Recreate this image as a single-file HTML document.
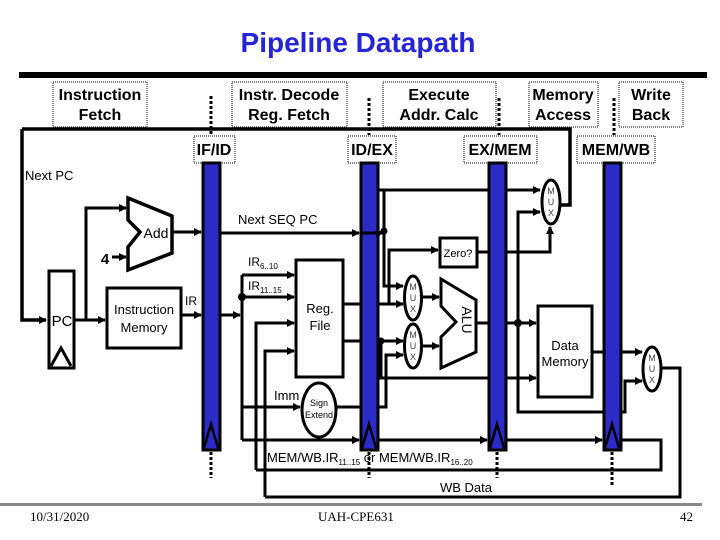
<!DOCTYPE html>
<html><head><meta charset="utf-8"><style>
html,body{margin:0;padding:0;background:#fff;}
svg{display:block;}
text{font-family:"Liberation Sans",sans-serif;}
</style></head><body>
<svg width="720" height="540" viewBox="0 0 720 540" xmlns="http://www.w3.org/2000/svg">
<defs>
<marker id="a" markerWidth="8" markerHeight="8" refX="7" refY="4" orient="auto" markerUnits="userSpaceOnUse">
<path d="M0,0 L8,4 L0,8 z" fill="#000"/></marker>
</defs>
<text x="358" y="52" font-size="28" font-weight="bold" fill="#2424d8" text-anchor="middle">Pipeline Datapath</text>
<rect x="19" y="72" width="688" height="6" fill="#000"/>

<g fill="#fff" stroke="#000" stroke-width="1" stroke-dasharray="1,1">
<rect x="53" y="82" width="94" height="45"/>
<rect x="232" y="82" width="115" height="45"/>
<rect x="383" y="82" width="113" height="45"/>
<rect x="529" y="82" width="69" height="45"/>
<rect x="619" y="82" width="64" height="45"/>
</g>
<g font-size="16" font-weight="bold" text-anchor="middle">
<text x="100" y="100">Instruction</text><text x="100" y="120">Fetch</text>
<text x="289" y="100">Instr. Decode</text><text x="289" y="120">Reg. Fetch</text>
<text x="439" y="100">Execute</text><text x="439" y="120">Addr. Calc</text>
<text x="563" y="100">Memory</text><text x="563" y="120">Access</text>
<text x="651" y="100">Write</text><text x="651" y="120">Back</text>
</g>

<g stroke="#000" stroke-width="3" stroke-dasharray="3,2" fill="none">
<line x1="211" y1="96" x2="211" y2="135"/>
<line x1="369" y1="98" x2="369" y2="135"/>
<line x1="499" y1="98" x2="499" y2="135"/>
<line x1="614" y1="98" x2="614" y2="135"/>
<line x1="211" y1="452" x2="211" y2="478"/>
<line x1="369" y1="452" x2="369" y2="478"/>
<line x1="497" y1="452" x2="497" y2="478"/>
<line x1="612" y1="452" x2="612" y2="486"/>
</g>

<!-- outline -->
<g stroke="#000" stroke-width="3.5" fill="none">
<polyline points="22,129 570,129 570,205 560,205"/>
<polyline points="22,129 22,320 46,320" marker-end="url(#a)"/>
</g>

<g fill="#fff" stroke="#000" stroke-width="1" stroke-dasharray="1,1">
<rect x="194" y="136" width="41" height="27"/>
<rect x="348" y="136" width="48" height="27"/>
<rect x="464" y="136" width="73" height="27"/>
<rect x="577" y="136" width="78" height="27"/>
</g>
<g font-size="16" font-weight="bold" text-anchor="middle">
<text x="214" y="155">IF/ID</text><text x="372" y="155">ID/EX</text>
<text x="500" y="155">EX/MEM</text><text x="616" y="155">MEM/WB</text>
</g>
<text x="25" y="180" font-size="13">Next PC</text>

<!-- pipeline bars -->
<g fill="#2b2bc8" stroke="#000" stroke-width="3">
<rect x="203" y="163" width="17" height="287"/>
<rect x="361" y="163" width="17" height="287"/>
<rect x="489" y="163" width="17" height="287"/>
<rect x="604" y="163" width="17" height="287"/>
</g>
<g fill="none" stroke="#000" stroke-width="2.5">
<polyline points="204,448 211,424 218,448"/>
<polyline points="362,448 369,424 376,448"/>
<polyline points="490,448 497,424 504,448"/>
<polyline points="605,448 612,424 619,448"/>
</g>

<!-- PC -->
<rect x="49" y="271" width="25" height="97" fill="#fff" stroke="#000" stroke-width="3"/>
<polyline points="51,366 61,348 71,366" fill="none" stroke="#000" stroke-width="3"/>
<text x="62" y="326" font-size="15" text-anchor="middle">PC</text>

<!-- Add -->
<polygon points="128,198 172,216 172,253 128,270 128,247 140,232 128,220" fill="#fff" stroke="#000" stroke-width="3.5"/>
<text x="156" y="238" font-size="14" text-anchor="middle">Add</text>
<text x="105" y="264" font-size="15" font-weight="bold" text-anchor="middle">4</text>

<rect x="107" y="288" width="74" height="60" fill="#fff" stroke="#000" stroke-width="3"/>
<text x="144" y="314" font-size="13" text-anchor="middle">Instruction</text>
<text x="144" y="332" font-size="13" text-anchor="middle">Memory</text>
<text x="185" y="305" font-size="12">IR</text>

<g stroke="#000" stroke-width="3" fill="none">
<line x1="74" y1="320" x2="105" y2="320" marker-end="url(#a)"/>
<polyline points="86,320 86,208 126,208" marker-end="url(#a)"/>
<line x1="112" y1="257" x2="126" y2="257" marker-end="url(#a)"/>
<line x1="172" y1="232" x2="201" y2="232" marker-end="url(#a)"/>
<line x1="181" y1="315" x2="201" y2="315" marker-end="url(#a)"/>
<line x1="220" y1="233" x2="359" y2="233" marker-end="url(#a)"/>
<line x1="220" y1="315" x2="240" y2="315" marker-end="url(#a)"/>
<line x1="242" y1="275" x2="242" y2="440"/>
<line x1="242" y1="275" x2="294" y2="275" marker-end="url(#a)"/>
<line x1="242" y1="297" x2="294" y2="297" marker-end="url(#a)"/>
<polyline points="256,470 256,323 294,323" marker-end="url(#a)"/>
<polyline points="265,497 265,351 294,351" marker-end="url(#a)"/>
<line x1="242" y1="407" x2="300" y2="407" marker-end="url(#a)"/>
<line x1="337" y1="407" x2="361" y2="407"/>
<line x1="343" y1="304" x2="361" y2="304"/>
<line x1="343" y1="341" x2="361" y2="341"/>
<line x1="242" y1="440" x2="359" y2="440" marker-end="url(#a)"/>
<line x1="378" y1="440" x2="487" y2="440" marker-end="url(#a)"/>
<line x1="506" y1="440" x2="602" y2="440" marker-end="url(#a)"/>
<polyline points="621,440 661,440 661,470 256,470"/>
<polyline points="660,368 680,368 680,497 265,497"/>

<!-- EX -->
<polyline points="378,190 489,190"/>
<line x1="506" y1="190" x2="540" y2="190" marker-end="url(#a)"/>
<line x1="361" y1="233" x2="384" y2="233"/>
<polyline points="384,190 384,286 403,286" marker-end="url(#a)"/>
<polyline points="378,304 403,304" marker-end="url(#a)"/>
<polyline points="389,304 389,250 438,250" marker-end="url(#a)"/>
<polyline points="477,252 489,252"/>
<polyline points="506,252 550,252 550,227" marker-end="url(#a)"/>
<line x1="378" y1="341" x2="403" y2="341" marker-end="url(#a)"/>
<polyline points="381,341 381,378 489,378"/>
<line x1="506" y1="378" x2="536" y2="378" marker-end="url(#a)"/>
<polyline points="378,407 386,407 386,355 403,355" marker-end="url(#a)"/>
<line x1="422" y1="297" x2="439" y2="297" marker-end="url(#a)"/>
<line x1="422" y1="346" x2="439" y2="346" marker-end="url(#a)"/>
<line x1="476" y1="323" x2="489" y2="323"/>
<line x1="506" y1="323" x2="536" y2="323" marker-end="url(#a)"/>
<polyline points="540,212 518,212 518,412 604,412"/>
<line x1="518" y1="212" x2="540" y2="212" marker-end="url(#a)"/>
<line x1="592" y1="352" x2="604" y2="352"/>
<line x1="621" y1="352" x2="642" y2="352" marker-end="url(#a)"/>
<polyline points="621,412 625,412 625,381 642,381" marker-end="url(#a)"/>
</g>
<g fill="#000">
<circle cx="242" cy="297" r="4"/><circle cx="384" cy="231" r="3.5"/>
<circle cx="381" cy="341" r="3.5"/><circle cx="518" cy="323" r="4"/>
<circle cx="378" cy="233" r="3"/>
</g>

<text x="248" y="266" font-size="12">IR<tspan font-size="8" dy="3">6..10</tspan></text>
<text x="248" y="290" font-size="12">IR<tspan font-size="8" dy="3">11..15</tspan></text>
<text x="238" y="224" font-size="13">Next SEQ PC</text>

<rect x="296" y="260" width="47" height="117" fill="#fff" stroke="#000" stroke-width="3"/>
<text x="320" y="313" font-size="13" text-anchor="middle">Reg.</text>
<text x="320" y="330" font-size="13" text-anchor="middle">File</text>

<ellipse cx="319" cy="410" rx="17" ry="27" fill="#fff" stroke="#000" stroke-width="3"/>
<text x="319" y="406" font-size="9" text-anchor="middle">Sign</text>
<text x="319" y="418" font-size="9" text-anchor="middle">Extend</text>
<text x="274" y="400" font-size="13">Imm</text>

<rect x="440" y="238" width="37" height="29" fill="#fff" stroke="#000" stroke-width="3"/>
<text x="458" y="257" font-size="11" text-anchor="middle">Zero?</text>

<polygon points="441,279 476,300 476,352 441,368 441,337 456,322 441,306" fill="#fff" stroke="#000" stroke-width="3"/>
<text x="460" y="322" font-size="14" transform="rotate(90 462 322)" text-anchor="middle">ALU</text>

<g fill="#fff" stroke="#000" stroke-width="3">
<ellipse cx="413" cy="298" rx="8.5" ry="22"/>
<ellipse cx="413" cy="346" rx="8.5" ry="22"/>
<ellipse cx="551" cy="202" rx="9" ry="22"/>
<ellipse cx="652" cy="369" rx="9" ry="22"/>
</g>
<g font-size="9" text-anchor="middle" fill="#444">
<text x="413" y="290">M</text><text x="413" y="301">U</text><text x="413" y="312">X</text>
<text x="413" y="338">M</text><text x="413" y="349">U</text><text x="413" y="360">X</text>
<text x="551" y="194">M</text><text x="551" y="205">U</text><text x="551" y="216">X</text>
<text x="652" y="361">M</text><text x="652" y="372">U</text><text x="652" y="383">X</text>
</g>

<rect x="538" y="306" width="54" height="91" fill="#fff" stroke="#000" stroke-width="3"/>
<text x="565" y="350" font-size="13" text-anchor="middle">Data</text>
<text x="565" y="366" font-size="13" text-anchor="middle">Memory</text>

<text x="267" y="462" font-size="13">MEM/WB.IR<tspan font-size="8" dy="3">11..15</tspan><tspan dy="-3"> or MEM/WB.IR</tspan><tspan font-size="8" dy="3">16..20</tspan></text>
<text x="466" y="492" font-size="13" text-anchor="middle">WB Data</text>

<rect x="0" y="503" width="702" height="3" fill="#888"/>
<g font-family="Liberation Serif" font-size="13">
<text x="30" y="521" style="font-family:'Liberation Serif',serif">10/31/2020</text>
<text x="318" y="521" style="font-family:'Liberation Serif',serif">UAH-CPE631</text>
<text x="680" y="521" style="font-family:'Liberation Serif',serif">42</text>
</g>
</svg>
</body></html>
